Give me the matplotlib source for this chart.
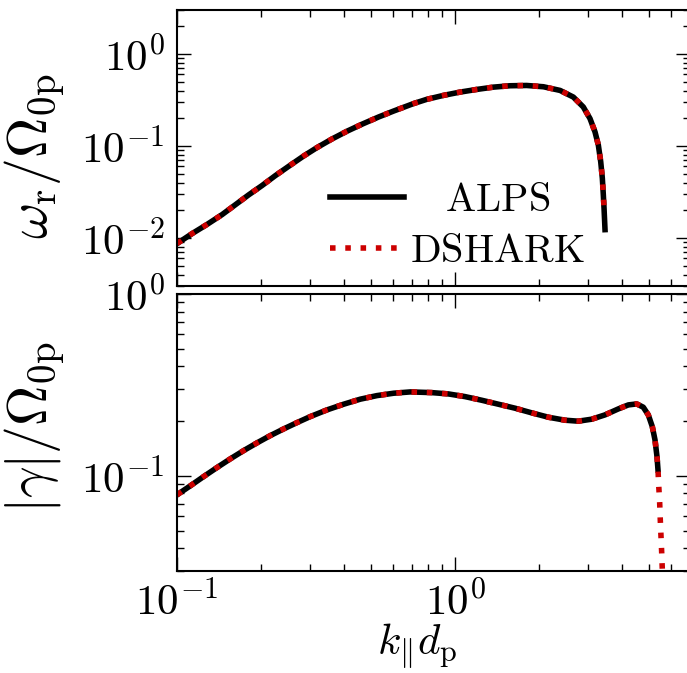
import matplotlib
matplotlib.use("Agg")
import matplotlib.pyplot as plt

plt.rcParams["mathtext.fontset"] = "cm"
plt.rcParams["font.family"] = "serif"
plt.rcParams["font.serif"] = ["cmr10", "DejaVu Serif"]
plt.rcParams["axes.formatter.use_mathtext"] = True

# real frequency, top panel
k_wr = [0.1, 0.1132, 0.1282, 0.1452, 0.1621, 0.1811, 0.2022, 0.2258, 0.2557,
        0.2857, 0.3190, 0.3611, 0.4088, 0.4628, 0.5314, 0.6019, 0.6722, 0.7079,
        0.7907, 0.9078, 1.042, 1.197, 1.374, 1.578, 1.811, 2.080, 2.388, 2.665,
        2.894, 3.059, 3.189, 3.278, 3.343, 3.388, 3.416, 3.436, 3.464]
wr_alps = [0.00867, 0.01112, 0.0140, 0.01790, 0.02291, 0.02938, 0.03706, 0.04753,
           0.0618, 0.0778, 0.0960, 0.1190, 0.1445, 0.1721, 0.2064, 0.2396, 0.2716,
           0.288, 0.3206, 0.354, 0.3845, 0.4111, 0.4355, 0.4508, 0.454, 0.4397,
           0.401, 0.3396, 0.265, 0.1983, 0.1419, 0.102, 0.0673, 0.0446, 0.0294,
           0.0211, 0.0123]
n_wr_dshark = 36  # DSHARK stops a little earlier

# damping rate, bottom panel
k_g = [0.1, 0.1116, 0.1247, 0.1393, 0.1555, 0.1737, 0.1940, 0.2166, 0.2420,
       0.2703, 0.3017, 0.3464, 0.3977, 0.4564, 0.5240, 0.6019, 0.6906, 0.8245,
       0.9460, 1.086, 1.247, 1.432, 1.644, 1.888, 2.166, 2.487, 2.777, 3.102,
       3.464, 3.868, 4.202, 4.504, 4.756, 4.957, 5.124, 5.240, 5.328, 5.372,
       5.403, 5.448, 5.475, 5.508, 5.540, 5.568, 5.600]
g_all = [0.0786, 0.0881, 0.0991, 0.1111, 0.1240, 0.1377, 0.1518, 0.1665, 0.1812,
         0.1963, 0.2118, 0.2305, 0.2477, 0.2640, 0.2762, 0.2847, 0.2894, 0.2869,
         0.2822, 0.2728, 0.2605, 0.2477, 0.2355, 0.2220, 0.2101, 0.2023, 0.1998,
         0.2049, 0.2164, 0.2334, 0.2455, 0.2486, 0.2385, 0.2164, 0.1866, 0.1577,
         0.1276, 0.1079, 0.0893, 0.0708, 0.0573, 0.0464, 0.0376, 0.0304, 0.0250]
n_g_alps = 38  # ALPS stops where DSHARK keeps dropping

red = "#cc0000"
fs_tick = 31
fs_leg = 29
fs_lab = 40

fig = plt.figure(figsize=(6.87, 6.73), dpi=100)
ax1 = fig.add_axes([0.2576, 0.5750, 0.7467, 0.4101])
ax2 = fig.add_axes([0.2576, 0.1516, 0.7467, 0.4116], sharex=ax1)

ax1.plot(k_wr, wr_alps, color="black", lw=4, label=r"$\quad\mathrm{ALPS}$")
ax1.plot(k_wr[:n_wr_dshark], wr_alps[:n_wr_dshark], color=red, lw=4,
         ls=(0, (1.0, 1.75)), label=r"$\mathrm{DSHARK}$")
ax2.plot(k_g[:n_g_alps], g_all[:n_g_alps], color="black", lw=4)
ax2.plot(k_g, g_all, color=red, lw=4, ls=(0, (1.0, 1.75)))

for ax in (ax1, ax2):
    ax.set_xscale("log")
    ax.set_yscale("log")
    ax.tick_params(which="both", direction="in", top=True, right=True,
                   labelsize=fs_tick)
    ax.tick_params(which="major", length=10, width=1, pad=9)
    ax.tick_params(which="minor", length=5, width=1)
    for s in ax.spines.values():
        s.set_linewidth(1.5)

ax1.set_xlim(0.1, 7)
ax1.set_ylim(3e-3, 3)
ax2.set_ylim(0.03, 1)
ax1.tick_params(labelbottom=False)
ax2.tick_params(axis="x", pad=7)

ax1.set_ylabel(r"$\omega_\mathrm{r}/\Omega_\mathrm{0p}$", fontsize=fs_lab)
ax2.set_ylabel(r"$|\gamma|/\Omega_\mathrm{0p}$", fontsize=fs_lab)
ax2.set_xlabel(r"$k_{\|}d_\mathrm{p}$", fontsize=31)
ax1.yaxis.set_label_coords(-0.215, 0.47)
ax2.yaxis.set_label_coords(-0.215, 0.52)
ax2.xaxis.set_label_coords(0.468, -0.183)

ax1.legend(loc="center", bbox_to_anchor=(0.546, 0.215), frameon=False,
           fontsize=fs_leg, handlelength=1.83, handletextpad=0.15,
           labelspacing=0.37, borderpad=0)

fig.savefig("out.png", dpi=100)
